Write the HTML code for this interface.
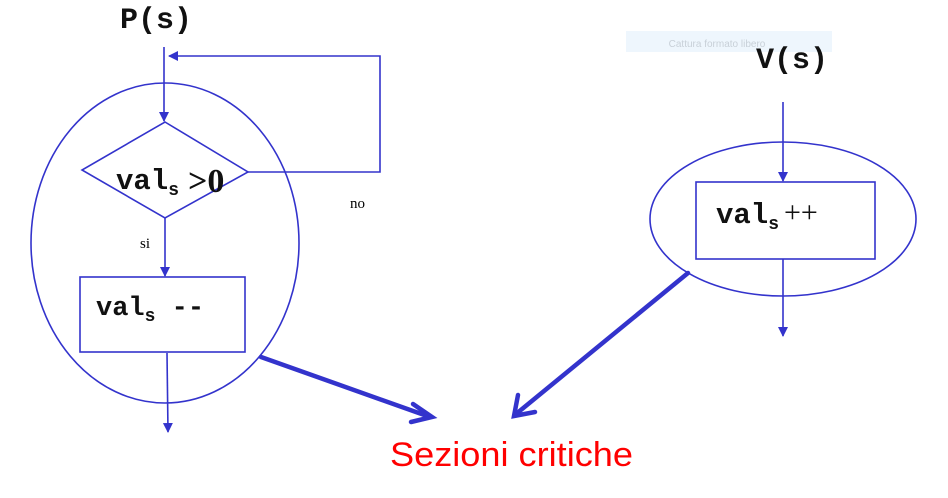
<!DOCTYPE html>
<html><head><style>body{margin:0;background:#fff}svg{display:block}</style></head><body>
<svg width="948" height="498" viewBox="0 0 948 498" xmlns="http://www.w3.org/2000/svg">
<defs>
<marker id="a" markerWidth="10" markerHeight="10" refX="9" refY="5" orient="auto" markerUnits="userSpaceOnUse"><path d="M0,0 L10,5 L0,10 z" fill="#3333cc"/></marker>
</defs>
<rect x="626" y="31" width="206" height="21" fill="#eef6fd"/>
<text x="717" y="47" font-family="Liberation Sans,sans-serif" font-size="10" fill="#c8d0d8" text-anchor="middle">Cattura formato libero</text>
<g fill="none" stroke="#3333cc" stroke-width="1.6">
<ellipse cx="165" cy="243" rx="134" ry="160"/>
<polygon points="165,122 248,172 165,218 82,170"/>
<rect x="80" y="277" width="165" height="75"/>
<line x1="164" y1="47" x2="164" y2="121" marker-end="url(#a)"/>
<polyline points="248,172 380,172 380,56 169,56" marker-end="url(#a)"/>
<line x1="165" y1="218" x2="165" y2="276" marker-end="url(#a)"/>
<line x1="167" y1="353" x2="168" y2="432" marker-end="url(#a)"/>
<ellipse cx="783" cy="219" rx="133" ry="77"/>
<rect x="696" y="182" width="179" height="77"/>
<line x1="783" y1="102" x2="783" y2="181" marker-end="url(#a)"/>
<line x1="783" y1="259" x2="783" y2="336" marker-end="url(#a)"/>
</g>
<g fill="none" stroke="#3333cc" stroke-width="4.5" stroke-linecap="round">
<line x1="261" y1="357" x2="430" y2="417"/>
<polyline points="413,404 432,417 411,422"/>
<line x1="688" y1="273" x2="516" y2="414"/>
<polyline points="518,395 514,416 535,412"/>
</g>
<g font-family="Liberation Mono,monospace" font-weight="bold" fill="#111">
<text x="120" y="28" font-size="30">P(s)</text>
<text x="756" y="68" font-size="30">V(s)</text>
<text x="116" y="189" font-size="29">val<tspan font-size="18" dy="6">s</tspan></text>
<text x="188" y="192" font-size="34" font-family="Liberation Serif,serif">&gt;0</text>
<text x="96" y="315" font-size="27">val<tspan font-size="18" dy="6">s</tspan><tspan dy="-6"> --</tspan></text>
<text x="716" y="223" font-size="29">val<tspan font-size="18" dy="6">s</tspan></text>
<text x="784" y="222" font-size="30" font-family="Liberation Serif,serif" font-weight="normal">++</text>
</g>
<text x="350" y="208" font-family="Liberation Serif,serif" font-size="15">no</text>
<text x="140" y="248" font-family="Liberation Serif,serif" font-size="15">si</text>
<text x="390" y="466" font-family="Liberation Sans,sans-serif" font-size="34" fill="#ff0000" textLength="243" lengthAdjust="spacingAndGlyphs">Sezioni critiche</text>
</svg>
</body></html>
